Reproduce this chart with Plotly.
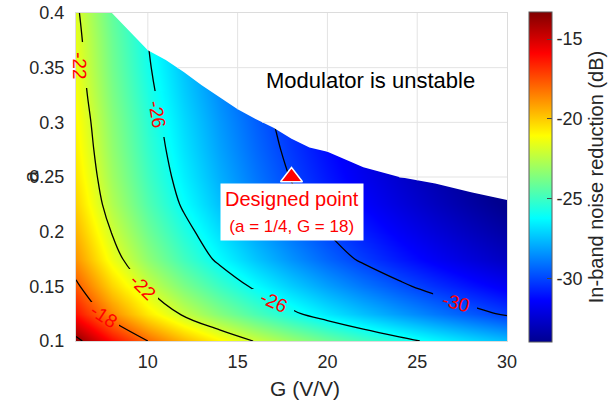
import numpy as np
import plotly.graph_objects as go

# ---- data ----
G_vals = [6, 8, 10, 12, 14, 16, 18, 20, 22, 24, 26, 28, 30]
a_vals = [0.1, 0.125, 0.15, 0.175, 0.2, 0.225, 0.25, 0.275, 0.3, 0.325, 0.35, 0.375, 0.4]
# In-band noise reduction (dB), rows = a, columns = G
noise_db = [
    [-13.56, -16.06, -18.00, -19.58, -20.92, -22.08, -23.11, -24.02, -24.85, -25.60, -26.30, -26.94, -27.54],
    [-16.21, -18.71, -20.65, -22.23, -23.57, -24.73, -25.76, -26.67, -27.50, -28.25, -28.95, -29.59, -30.19],
    [-17.71, -20.21, -22.15, -23.73, -25.07, -26.23, -27.26, -28.17, -29.00, -29.75, -30.45, -31.09, -31.69],
    [-18.91, -21.41, -23.35, -24.93, -26.27, -27.43, -28.46, -29.37, -30.20, -30.95, -31.65, -32.29, -32.89],
    [-19.56, -22.06, -24.00, -25.58, -26.92, -28.08, -29.11, -30.02, -30.85, -31.60, -32.30, -32.94, -33.54],
    [-20.16, -22.66, -24.60, -26.18, -27.52, -28.68, -29.71, -30.62, -31.45, -32.20, -32.90, -33.54, -34.14],
    [-20.51, -23.01, -24.95, -26.53, -27.87, -29.03, -30.06, -30.97, -31.80, -32.55, -33.25, -33.89, -34.49],
    [-20.76, -23.26, -25.20, -26.78, -28.12, -29.28, -30.31, -31.22, -32.05, -32.80, -33.50, -34.14, -34.74],
    [-20.96, -23.46, -25.40, -26.98, -28.32, -29.48, -30.51, -31.42, -32.25, -33.00, -33.70, -34.34, -34.94],
    [-21.21, -23.71, -25.65, -27.23, -28.57, -29.73, -30.76, -31.67, -32.50, -33.25, -33.95, -34.59, -35.19],
    [-21.41, -23.91, -25.85, -27.43, -28.77, -29.93, -30.96, -31.87, -32.70, -33.45, -34.15, -34.79, -35.39],
    [-21.56, -24.06, -26.00, -27.58, -28.92, -30.08, -31.11, -32.02, -32.85, -33.60, -34.30, -34.94, -35.54],
    [-21.76, -24.26, -26.20, -27.78, -29.12, -30.28, -31.31, -32.22, -33.05, -33.80, -34.50, -35.14, -35.74],
]
# stability boundary: largest stable a for each G
bound_G = [8, 9, 10, 11, 12, 13, 14, 15, 16, 17, 18, 19, 20, 22, 24, 26, 28, 30]
bound_a = [0.400, 0.383, 0.366, 0.357, 0.346, 0.334, 0.323, 0.312, 0.303, 0.295,
           0.285, 0.277, 0.273, 0.259, 0.250, 0.244, 0.236, 0.229]
design_G = [18]
design_a = [0.25]
contour_levels = [-30, -26, -22, -18, -14]
# contour labels (placed as in the reference)
label_level = [-22, -26, -22, -18, -26, -30]
label_G = [6.223, 10.54, 9.677, 7.504, 16.97, 27.11]
label_a = [0.3524, 0.3076, 0.1494, 0.1229, 0.1357, 0.1348]
label_angle = [89, 80, 45, 33, 24, 15]
x_ticks = [10, 15, 20, 25, 30]
y_ticks = [0.1, 0.15, 0.2, 0.25, 0.3, 0.35, 0.4]
cbar_ticks = [-15, -20, -25, -30]
ZMIN, ZMAX = -34.0, -13.3

# ---- styling ----
FONT = "Liberation Sans, Arial, sans-serif"
TXT = "#262626"
GRID = "#e3e3e3"
jet = [[0, "rgb(0,0,144)"], [0.125, "rgb(0,0,255)"], [0.375, "rgb(0,255,255)"],
       [0.625, "rgb(255,255,0)"], [0.875, "rgb(255,0,0)"], [1, "rgb(128,0,0)"]]
X0, X1, Y0, Y1 = 6, 30, 0.1, 0.4
ML, MR, MT, MB = 76, 109, 13, 62
W, H = 616, 403
px_per_G = (W - ML - MR) / (X1 - X0)
px_per_a = (H - MT - MB) / (Y1 - Y0)
# size (px) of the gap cut into the contour line under each label
gap_w = [16, 18, 32, 32, 42, 44]
gap_h = [46, 46, 36, 28, 26, 24]

fig = go.Figure()

heat_style = dict(zsmooth="best", colorscale=jet, zmin=ZMIN, zmax=ZMAX, hoverinfo="skip")

fig.add_trace(go.Heatmap(
    x=G_vals, y=a_vals, z=noise_db, **heat_style,
    colorbar=dict(
        x=1.051, xanchor="left", xpad=0, y=0.5, yanchor="middle", ypad=0,
        len=1.006, lenmode="fraction", thickness=23, thicknessmode="pixels",
        outlinecolor="#5a5a5a", outlinewidth=1,
        tickvals=cbar_ticks, ticktext=[str(v) for v in cbar_ticks],
        ticks="inside", ticklen=5, tickcolor="#444",
        tickfont=dict(family=FONT, size=18, color=TXT),
        title=dict(text="In-band noise reduction (dB)", side="right",
                   font=dict(family=FONT, size=20, color=TXT)),
    ),
))

fig.add_trace(go.Contour(
    x=G_vals, y=a_vals, z=noise_db,
    autocontour=False,
    contours=dict(start=min(contour_levels), end=max(contour_levels), size=4,
                  coloring="lines", showlabels=False),
    colorscale=[[0, "black"], [1, "black"]],
    line=dict(width=1.3),
    showscale=False, hoverinfo="skip",
))

# white mask over the unstable region
mask_x = list(bound_G) + [30.8, 30.8, bound_G[0]]
mask_y = list(bound_a) + [bound_a[-1], 0.43, 0.43]
fig.add_trace(go.Scatter(x=mask_x, y=mask_y, fill="toself", fillcolor="white",
                         line=dict(width=0, color="white"), mode="lines",
                         hoverinfo="skip", showlegend=False))

# grid lines visible only in the (white) unstable region
gx, gy = [], []
for xv in x_ticks[:-1]:
    ab = float(np.interp(xv, bound_G, bound_a))
    if ab < 0.4:
        gx += [xv, xv, None]
        gy += [ab, 0.4, None]
for yv in y_ticks[1:-1]:
    if yv > min(bound_a):
        gb = float(np.interp(yv, bound_a[::-1], bound_G[::-1]))
        gx += [gb, 30, None]
        gy += [yv, yv, None]
fig.add_trace(go.Scatter(x=gx, y=gy, mode="lines", line=dict(color=GRID, width=1),
                         hoverinfo="skip", showlegend=False))

fig.add_trace(go.Scatter(x=design_G, y=design_a, mode="markers",
                         marker=dict(symbol="triangle-up", size=19, color="#ff0000",
                                     line=dict(color="white", width=1.5)),
                         hoverinfo="skip", showlegend=False))

# gaps in the contour lines under the labels: small windows showing the same field
extra_axes = {}
for i, (gc, ac, gw, gh) in enumerate(zip(label_G, label_a, gap_w, gap_h)):
    k = i + 2
    g0 = max(X0, gc - gw / 2 / px_per_G)
    g1 = min(X1, gc + gw / 2 / px_per_G)
    a0 = max(Y0, ac - gh / 2 / px_per_a)
    a1 = min(Y1, ac + gh / 2 / px_per_a)
    fig.add_trace(go.Heatmap(x=G_vals, y=a_vals, z=noise_db, showscale=False,
                             xaxis=f"x{k}", yaxis=f"y{k}", **heat_style))
    extra_axes[f"xaxis{k}"] = dict(domain=[(g0 - X0) / (X1 - X0), (g1 - X0) / (X1 - X0)],
                                   range=[g0, g1], visible=False, anchor=f"y{k}",
                                   fixedrange=True)
    extra_axes[f"yaxis{k}"] = dict(domain=[(a0 - Y0) / (Y1 - Y0), (a1 - Y0) / (Y1 - Y0)],
                                   range=[a0, a1], visible=False, anchor=f"x{k}",
                                   fixedrange=True)

for lv, gc, ac, ang in zip(label_level, label_G, label_a, label_angle):
    fig.add_annotation(x=gc, y=ac, xref="x", yref="y", text=str(lv),
                       textangle=ang, showarrow=False,
                       font=dict(family=FONT, size=19, color="#ff0000"))

fig.add_annotation(x=18, y=0.2445, xref="x", yref="y", xanchor="center", yanchor="top",
                   text="Designed point<br><span style='font-size:17px'>(a = 1/4, G = 18)</span>",
                   showarrow=False, bgcolor="white", borderpad=4,
                   font=dict(family=FONT, size=20, color="#ff0000"))

fig.add_annotation(x=22.38, y=0.3387, xref="x", yref="y", text="Modulator is unstable",
                   showarrow=False, font=dict(family=FONT, size=22, color="black"))

# axis titles
fig.add_annotation(x=18.76, y=-0.145, xref="x", yref="paper", text="G (V/V)",
                   showarrow=False, yanchor="middle",
                   font=dict(family=FONT, size=21, color=TXT))
fig.add_annotation(x=-0.139, y=0.5, xref="paper", yref="paper", text="a",
                   showarrow=False, textangle=-90,
                   font=dict(family=FONT, size=21, color=TXT))

fig.update_layout(
    width=W, height=H,
    margin=dict(l=ML, r=MR, t=MT, b=MB, autoexpand=False),
    paper_bgcolor="white", plot_bgcolor="rgba(0,0,0,0)",
    showlegend=False,
    font=dict(family=FONT, color=TXT),
    xaxis=dict(range=[X0, X1], tickvals=x_ticks, showgrid=False, zeroline=False,
               showline=True, mirror=True, linecolor="#dcdcdc", linewidth=1,
               ticks="", ticklabelstandoff=4, layer="above traces", automargin=False,
               tickfont=dict(family=FONT, size=18, color=TXT)),
    yaxis=dict(range=[Y0, Y1], tickvals=y_ticks, ticktext=[str(v) for v in y_ticks],
               showgrid=False, zeroline=False,
               showline=True, mirror=True, linecolor="#dcdcdc", linewidth=1,
               ticks="", ticklabelstandoff=7, layer="above traces", automargin=False,
               tickfont=dict(family=FONT, size=18, color=TXT)),
    **extra_axes,
)

fig.write_html("out.html", config={"displayModeBar": False, "staticPlot": True},
               post_script="document.body.style.margin='0px';document.body.style.overflow='hidden';")
